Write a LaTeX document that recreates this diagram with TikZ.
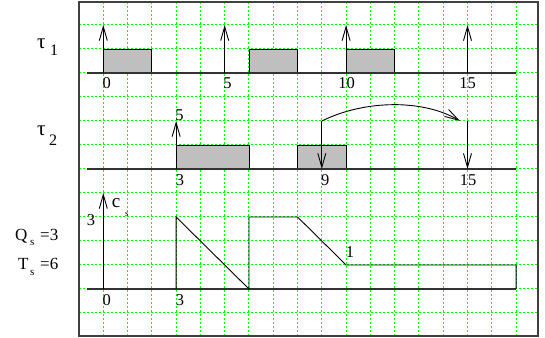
\documentclass[tikz,border=0pt]{standalone}
\usepackage{fontspec}
\setmainfont{Liberation Serif}
\usetikzlibrary{arrows.meta}
\definecolor{gridgreen}{RGB}{0,255,0}
\begin{document}
\begin{tikzpicture}[x=24.28bp,y=24bp,
  gridline/.style={draw=gridgreen, line width=1bp, dash pattern=on 1.6bp off 2.4bp},
  axis/.style={draw=black!80, line width=1.1bp},
  job/.style={draw=black, fill=black!25, line width=0.9bp},
  curve/.style={draw=black, line width=0.9bp, line join=miter},
  arr/.style={draw=black, line width=0.9bp, -{Straight Barb[length=14bp,width=8bp]}},
  lbl/.style={inner sep=0pt, font=\fontsize{16.5bp}{18bp}\selectfont},
  big/.style={inner sep=0pt, anchor=base west, font=\fontsize{17bp}{18bp}\selectfont},
  greek/.style={inner sep=0pt, anchor=base west, font=\fontsize{21bp}{22bp}\selectfont},
  sub/.style={inner sep=0pt, anchor=base west, font=\fontsize{11bp}{12bp}\selectfont},
  tiny/.style={inner sep=0pt, anchor=base west, font=\fontsize{9bp}{10bp}\selectfont}]
\useasboundingbox (-4.2545,-1.0417) rectangle (18.192,13.0417);
% grid
\foreach \k in {0,...,17} \draw[gridline] (\k,-0.96) -- (\k,12.96);
\foreach \j in {0,...,12} \draw[gridline] (-1,\j) -- (17.9,\j);
% frame
\draw[line width=1.2bp, draw=black!75] (-1,-0.96) rectangle (17.9,12.96);
% tau1
\draw[job] (0,10) rectangle (2,11);
\draw[job] (6,10) rectangle (8,11);
\draw[job] (10,10) rectangle (12,11);
\draw[axis] (-0.67,10) -- (17,10);
\foreach \k in {0,5,10,15} {
  \coordinate (a1b\k) at (\k,10);
  \coordinate (a1t\k) at (\k,12);
  \draw[arr] (a1b\k) -- (a1t\k);
}
\node[greek] (t1) at (-2.731,11.04) {τ};
\node[big, font=\fontsize{16bp}{18bp}\selectfont] (t1s) at (-2.195,10.71) {1};
\node[lbl] (l10) at (0.14,9.58) {0};
\node[lbl] (l15) at (5.12,9.58) {5};
\node[lbl] (l110) at (10.02,9.58) {10};
\node[lbl] (l115) at (15.0,9.58) {15};
% tau2
\draw[job] (3,6) rectangle (6,7);
\draw[job] (8,6) rectangle (10,7);
\draw[axis] (-0.67,6) -- (17,6);
\coordinate (u3b) at (3,6);
\coordinate (u3t) at (3,8);
\draw[arr] (u3b) -- (u3t);
\coordinate (d9t) at (9,8);
\coordinate (d9b) at (9,6);
\coordinate (d15t) at (15,8);
\coordinate (d15b) at (15,6);
\draw[arr] (d9t) -- (d9b);
\draw[arr] (d15t) -- (d15b);
\coordinate (ce) at (14.69,8);
\draw[arr] (d9t) .. controls (10.8,8.9) and (13.2,8.9) .. (ce);
\node[greek] (t2) at (-2.731,7.40) {τ};
\node[big, font=\fontsize{16bp}{18bp}\selectfont] (t2s) at (-2.236,6.96) {2};
\node[lbl] (l25) at (3.14,8.23) {5};
\node[lbl] (l23) at (3.16,5.54) {3};
\node[lbl] (l29) at (9.14,5.54) {9};
\node[lbl] (l215) at (15.03,5.54) {15};
% server capacity
\draw[axis] (-0.67,1) -- (17,1);
\coordinate (cb) at (0,1);
\coordinate (ct) at (0,5);
\draw[arr] (cb) -- (ct);
\draw[curve] (3,1) -- (3,4) -- (6,1) -- (6,4) -- (8,4) -- (10,2) -- (17,2) -- (17,1);
\node[big, font=\fontsize{19bp}{20bp}\selectfont] (cc) at (0.34,4.375) {c};
\node[tiny] (ccs) at (0.894,4.04) {s};
\node[lbl] (c3) at (-0.51,3.875) {3};
\node[lbl] (c1) at (10.16,2.56) {1};
\node[lbl] (c0) at (0.14,0.54) {0};
\node[lbl] (c3b) at (3.16,0.54) {3};
\node[big] (q) at (-3.637,3.04) {Q};
\node[sub] (qs) at (-3.019,2.81) {s};
\node[big] (qv) at (-2.607,3.04) {=3};
\node[big] (t) at (-3.513,1.80) {T};
\node[sub] (ts) at (-3.019,1.55) {s};
\node[big] (tv) at (-2.607,1.80) {=6};
\end{tikzpicture}
\end{document}
